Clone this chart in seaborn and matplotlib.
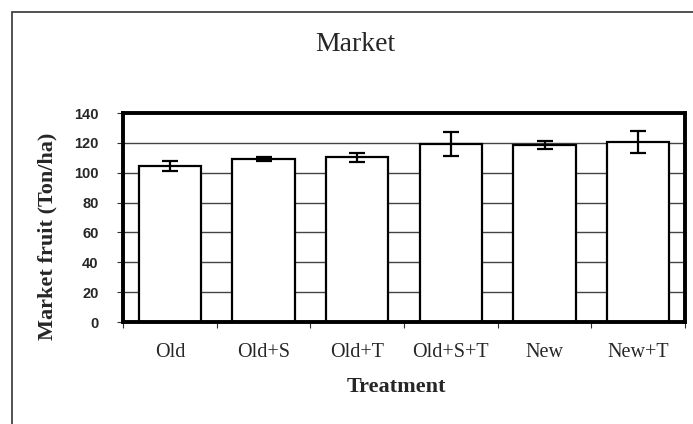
import numpy as np
import pandas as pd
import matplotlib
matplotlib.use("Agg")
import matplotlib.pyplot as plt
from matplotlib.patches import Rectangle
from matplotlib.ticker import FixedLocator
import seaborn as sns

# ------------------------------------------------------------
# data
# ------------------------------------------------------------
treatments = ["Old", "Old+S", "Old+T", "Old+S+T", "New", "New+T"]
market_fruit = [104.5, 109.0, 110.5, 119.5, 118.5, 120.5]
std_err = [3.3, 1.2, 3.0, 8.0, 2.8, 7.4]
y_ticks = [0, 20, 40, 60, 80, 100, 120, 140]

df = pd.DataFrame({"Treatment": treatments, "Market": market_fruit})

sns.set_style("white")
serif = ["Liberation Serif", "DejaVu Serif"]

fig = plt.figure(figsize=(6.93, 4.24), dpi=100)
ax = fig.add_axes([123 / 693, 1 - 322 / 424, (685 - 123) / 693, (322 - 113) / 424])

sns.barplot(data=df, x="Treatment", y="Market", color="white",
            edgecolor="black", linewidth=1.6, width=0.665,
            errorbar=None, ax=ax, zorder=3)
pos = np.arange(len(treatments))
ax.errorbar(pos, market_fruit, yerr=std_err, fmt="none", ecolor="black",
            elinewidth=1.6, capsize=5.5, capthick=1.6, zorder=4)

ax.set_xlim(-0.5, len(treatments) - 0.5)
ax.set_ylim(0, 140)
ax.set_yticks(y_ticks)
ax.set_yticklabels([str(v) for v in y_ticks], fontfamily="Liberation Sans",
                   fontweight="bold", fontsize=10.5)
ax.grid(axis="y", color="#444444", linewidth=1.0, zorder=0)
ax.set_axisbelow(True)

# x labels at category centres, tick marks at category boundaries
ax.set_xticks(pos)
ax.set_xticklabels(treatments, fontfamily=serif, fontsize=14.5)
ax.tick_params(axis="x", which="major", length=0, pad=15)
ax.xaxis.set_minor_locator(FixedLocator(np.arange(-0.5, len(treatments), 1.0)))
ax.tick_params(axis="x", which="minor", length=4.5, width=0.8,
               direction="out", bottom=True, color="#333333")
ax.tick_params(axis="y", length=4.5, width=0.8, direction="out",
               left=True, pad=13, color="#333333")

for side in ["top", "bottom", "left", "right"]:
    ax.spines[side].set_visible(True)
    ax.spines[side].set_linewidth(2.8)
    ax.spines[side].set_color("black")
    ax.spines[side].set_zorder(5)

ax.set_xlabel("")
ax.set_ylabel("")

fig.text(355 / 693, 1 - 50.7 / 424, "Market", fontfamily=serif, fontsize=20,
         ha="center", va="baseline")
fig.text(396 / 693, 1 - 391.7 / 424, "Treatment", fontfamily=serif,
         fontsize=16, fontweight="bold", ha="center", va="baseline")
fig.text(47 / 693, 1 - 236 / 424, "Market fruit (Ton/ha)", fontfamily=serif,
         fontsize=16, fontweight="bold", rotation=90, ha="center", va="center")

# outer chart border (cut off at right and bottom like the source)
fig.patches.append(Rectangle((12 / 693, -0.05), 1.1, 1 - 12 / 424 + 0.05,
                             transform=fig.transFigure, fill=False,
                             edgecolor="#333333", linewidth=1.2))

fig.savefig("out.png", dpi=100)
